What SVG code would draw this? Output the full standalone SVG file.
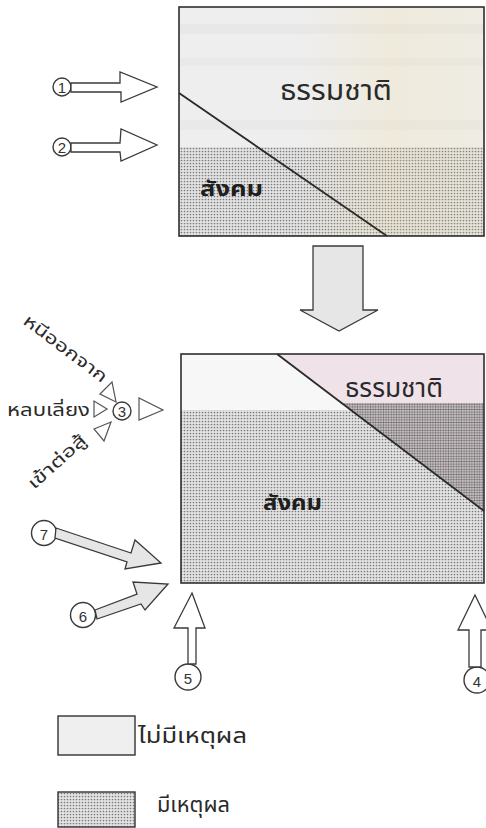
<svg xmlns="http://www.w3.org/2000/svg" width="486" height="828" viewBox="0 0 486 828">
<defs>
<pattern id="dots" width="3" height="3" patternUnits="userSpaceOnUse">
<rect width="3" height="3" fill="#e4e4e4"/>
<circle cx="1.5" cy="1.5" r="0.85" fill="#7a7a7a"/>
</pattern>
<pattern id="dotsDark" width="2.6" height="2.6" patternUnits="userSpaceOnUse">
<rect width="2.6" height="2.6" fill="#cfc6ca"/>
<circle cx="1.3" cy="1.3" r="0.95" fill="#5e5e5e"/>
</pattern>
<linearGradient id="warm" x1="0" y1="0" x2="1" y2="0">
<stop offset="0" stop-color="#f3d98a" stop-opacity="0"/>
<stop offset="0.5" stop-color="#f3d98a" stop-opacity="0.18"/>
<stop offset="1" stop-color="#f3d98a" stop-opacity="0.1"/>
</linearGradient>
<style>
.box{fill:none;stroke:#2e2e2e;stroke-width:1.6}
.div{stroke:#2a2a2a;stroke-width:1.8;fill:none}
.open{fill:#ffffff;stroke:#3a3a3a;stroke-width:1.3;stroke-linejoin:miter}
.grey{fill:#e6e6e6;stroke:#3a3a3a;stroke-width:1.3;stroke-linejoin:miter}
.tri{fill:#ffffff;stroke:#555;stroke-width:1.2}
.circ{fill:#ffffff;stroke:#3a3a3a;stroke-width:1.4}
.num{font-family:"Liberation Sans",Arial,sans-serif;font-size:15px;fill:#333;text-anchor:middle}
.th{font-family:"Noto Sans Thai","Noto Sans","DejaVu Sans",sans-serif;fill:#2a2a2a}
.thb{font-family:"Noto Sans Thai","Noto Sans","DejaVu Sans",sans-serif;fill:#1e1e1e;font-weight:bold}
</style>
</defs>
<rect width="486" height="828" fill="#ffffff"/>

<!-- top box -->
<g id="box-top">
<rect x="179" y="7" width="305" height="229" fill="#eeeeee"/>
<rect x="179" y="24" width="305" height="10" fill="#e4e4e4" opacity="0.6"/>
<rect x="179" y="58" width="305" height="8" fill="#e4e4e4" opacity="0.5"/>
<rect x="179" y="120" width="305" height="10" fill="#e4e4e4" opacity="0.5"/>
<rect x="179" y="147" width="305" height="89" fill="url(#dots)"/>
<rect x="300" y="7" width="184" height="229" fill="url(#warm)"/>
<line class="div" x1="179" y1="93" x2="387" y2="236"/>
<rect class="box" x="179" y="7" width="305" height="229"/>
<text class="th" x="280" y="100" font-size="28" textLength="112" lengthAdjust="spacingAndGlyphs">ธรรมชาติ</text>
<text class="thb" x="200" y="196" font-size="22" textLength="63" lengthAdjust="spacingAndGlyphs">สังคม</text>
</g>

<!-- bottom box -->
<g id="box-bottom">
<rect x="181" y="354" width="303" height="229" fill="#f7f7f7"/>
<polygon points="277,354 484,354 484,511" fill="#f0e2e9"/>
<polygon points="181,410 351,410 484,511 484,583 181,583" fill="url(#dots)"/>
<polygon points="342,403 484,403 484,511" fill="url(#dotsDark)"/>
<line class="div" x1="277" y1="354" x2="484" y2="511"/>
<rect class="box" x="181" y="354" width="303" height="229"/>
<text class="th" x="345" y="397" font-size="26" textLength="98" lengthAdjust="spacingAndGlyphs">ธรรมชาติ</text>
<text class="thb" x="263" y="510" font-size="22" textLength="59" lengthAdjust="spacingAndGlyphs">สังคม</text>
</g>

<!-- legend -->
<g id="legend-irrational">
<rect x="58" y="716" width="77" height="39" fill="#efefef" stroke="#333" stroke-width="1.4"/>
<text class="th" x="138" y="743" font-size="22" textLength="109" lengthAdjust="spacingAndGlyphs">ไม่มีเหตุผล</text>
</g>
<g id="legend-rational">
<rect x="58" y="792" width="77" height="35" fill="url(#dots)" stroke="#333" stroke-width="1.4"/>
<text class="th" x="157" y="812" font-size="22" textLength="73" lengthAdjust="spacingAndGlyphs">มีเหตุผล</text>
</g>

<!-- number nodes -->
<g id="n1"><circle class="circ" cx="62" cy="87" r="9"/><text class="num" x="62" y="92.5">1</text></g>
<g id="n2"><circle class="circ" cx="62" cy="147" r="9"/><text class="num" x="62" y="152.5">2</text></g>
<g id="n3"><circle class="circ" cx="122" cy="411" r="9"/><text class="num" x="122" y="416.5">3</text></g>
<g id="n4"><circle class="circ" cx="477" cy="680" r="13"/><text class="num" x="477" y="687" font-size="19">4</text></g>
<g id="n5"><circle class="circ" cx="188" cy="677" r="13"/><text class="num" x="188" y="684" font-size="19">5</text></g>
<g id="n6"><circle class="circ" cx="83" cy="615" r="12.5"/><text class="num" x="83" y="622" font-size="19">6</text></g>
<g id="n7"><circle class="circ" cx="44" cy="533" r="12.5"/><text class="num" x="44" y="540" font-size="19">7</text></g>

<!-- labels around 3 -->
<g id="labels3">
<text class="th" font-size="17" transform="translate(22,323) rotate(37)" textLength="100" lengthAdjust="spacingAndGlyphs">หนีออกจาก</text>
<text class="th" x="7" y="416" font-size="17" textLength="83" lengthAdjust="spacingAndGlyphs">หลบเลี่ยง</text>
<text class="th" font-size="17" transform="translate(34,490) rotate(-42)" textLength="72" lengthAdjust="spacingAndGlyphs">เข้าต่อสู้</text>
</g>

<!-- connectors -->
<g id="connectors">
<polygon class="open" points="71,83 120,83 120,72 157,87 121,102 121,92 71,92"/>
<polygon class="open" points="71,143 120,143 121,129 157,145 121,161 120,152 71,152"/>
<polygon class="grey" points="313,246 363,246 363,310 378,310 339,331 300,310 313,310"/>
<polygon class="tri" points="94,401 94,417 107,409"/>
<polygon class="tri" points="139,398 139,420 163,410"/>
<polygon class="tri" points="100,394 112,382 116,402"/>
<polygon class="tri" points="94,429 111,422 104,441"/>
<polygon class="grey" points="56,528 131,553 135,540 161,563 125,569 127,562 55,538"/>
<polygon class="grey" points="95,610 137,594 133,582 168,584 145,610 141,604 97,619"/>
<polygon class="open" points="192,593 205,628 196,628 196,664 188,664 188,628 174,628"/>
<polygon class="open" points="475,595 492,630 481,630 481,667 469,667 469,630 458,630"/>
</g>
</svg>
